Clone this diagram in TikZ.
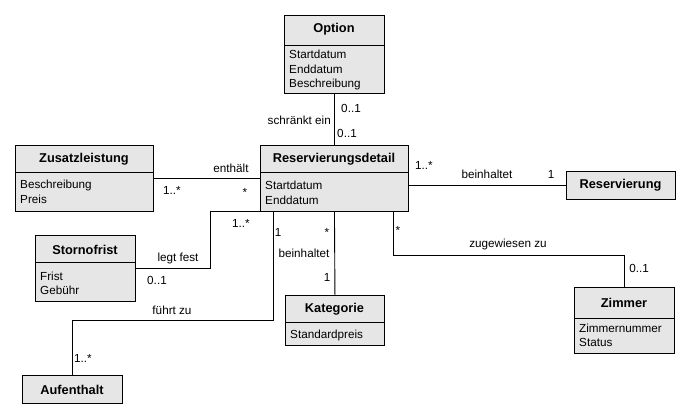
\documentclass[tikz,border=0pt]{standalone}
\usepackage{fontspec}
\setmainfont{Liberation Sans}
\definecolor{boxgray}{HTML}{E6E6E6}
\tikzset{
  cls/.style={draw, fill=boxgray, line width=0.9pt, anchor=north west, inner sep=0pt},
  ttl/.style={font=\fontsize{12.8}{14}\selectfont\bfseries, inner sep=0pt},
  attr/.style={font=\fontsize{11.7}{14}\selectfont, anchor=west, inner sep=0pt},
  lbl/.style={font=\fontsize{11.7}{14}\selectfont, inner sep=0pt},
  conn/.style={line width=0.9pt},
  divl/.style={line width=0.9pt}
}
\newcommand{\UMLbox}[5]{% name, x, y, w, h
  \node[cls, minimum width=#4pt, minimum height=#5pt] (#1) at (#2,#3) {};
}
\begin{document}
\begin{tikzpicture}[x=1pt,y=-1pt]
\useasboundingbox[fill=white] (0,0) rectangle (698,419);

% Option
\UMLbox{opt}{284}{15}{100}{78}
\draw[divl] (284,45) -- (384,45);
\node[ttl] (optT) at (334,29) {Option};
\node[attr] (optA1) at (289,54) {Startdatum};
\node[attr] (optA2) at (289,69) {Enddatum};
\node[attr] (optA3) at (289,84) {Beschreibung};

% Reservierungsdetail
\UMLbox{rd}{260}{145}{148}{66}
\draw[divl] (260,172) -- (408,172);
\node[ttl] (rdT) at (334,159) {Reservierungsdetail};
\node[attr] (rdA1) at (265,185) {Startdatum};
\node[attr] (rdA2) at (265,200) {Enddatum};

% Zusatzleistung
\UMLbox{zl}{15}{145}{138}{66}
\draw[divl] (15,172) -- (153,172);
\node[ttl] (zlT) at (84,159) {Zusatzleistung};
\node[attr] (zlA1) at (20,185) {Beschreibung};
\node[attr] (zlA2) at (20,199) {Preis};

% Reservierung
\UMLbox{res}{566}{171}{109}{28}
\node[ttl] (resT) at (620.5,185.5) {Reservierung};

% Stornofrist
\UMLbox{sf}{35}{235}{100}{66}
\draw[divl] (35,262) -- (135,262);
\node[ttl] (sfT) at (85,250) {Stornofrist};
\node[attr] (sfA1) at (40,276) {Frist};
\node[attr] (sfA2) at (40,290) {Gebühr};

% Kategorie
\UMLbox{kat}{285}{295}{99}{50}
\draw[divl] (285,322) -- (384,322);
\node[ttl] (katT) at (334.5,309) {Kategorie};
\node[attr] (katA1) at (290,335) {Standardpreis};

% Zimmer
\UMLbox{zim}{574}{287}{100}{66}
\draw[divl] (574,318) -- (674,318);
\node[ttl] (zimT) at (624,303) {Zimmer};
\node[attr] (zimA1) at (579,328) {Zimmernummer};
\node[attr] (zimA2) at (579,342) {Status};

% Aufenthalt
\UMLbox{auf}{22}{375}{100}{28}
\node[ttl] (aufT) at (72,389.5) {Aufenthalt};

% connectors
\draw[conn] (opt.south) -- (rd.north);
\draw[conn] (zl.east) -- (rd.west);
\draw[conn] (rd.east |- res.west) -- (res.west);
\coordinate (lf) at (210,268);
\draw[conn] (sf.east |- lf) -- (lf) |- (rd.south west);
\coordinate (fz1) at (273,211);
\coordinate (fz2) at (273,320);
\draw[conn] (fz1) -- (fz2) -| (auf.north);
\draw[conn] (rd.south) -- (kat.north);
\coordinate (zz1) at (393,211);
\coordinate (zz2) at (393,255);
\draw[conn] (zz1) -- (zz2) -| (zim.north);

% labels
\node[lbl] (l1) at (351,108) {0..1};
\node[lbl, anchor=east] (l2) at (331,120) {schränkt ein};
\node[lbl] (l3) at (347,133) {0..1};
\node[lbl] (l4) at (231,168) {enthält};
\node[lbl] (l5) at (172,190) {1..*};
\node[lbl] (l6) at (245,192) {*};
\node[lbl] (l7) at (424,165) {1..*};
\node[lbl] (l8) at (487,174) {beinhaltet};
\node[lbl] (l9) at (551,174) {1};
\node[lbl] (l10) at (178,258) {legt fest};
\node[lbl] (l11) at (241,223) {1..*};
\node[lbl] (l12) at (157,280) {0..1};
\node[lbl] (l13) at (172,310) {führt zu};
\node[lbl] (l14) at (83,358) {1..*};
\node[lbl] (l15) at (278,232) {1};
\node[lbl] (l16) at (327,232) {*};
\node[lbl] (l17) at (304,253) {beinhaltet};
\node[lbl] (l18) at (327,277) {1};
\node[lbl] (l19) at (398,230) {*};
\node[lbl] (l20) at (508,244) {zugewiesen zu};
\node[lbl] (l21) at (639,268) {0..1};
\end{tikzpicture}
\end{document}
